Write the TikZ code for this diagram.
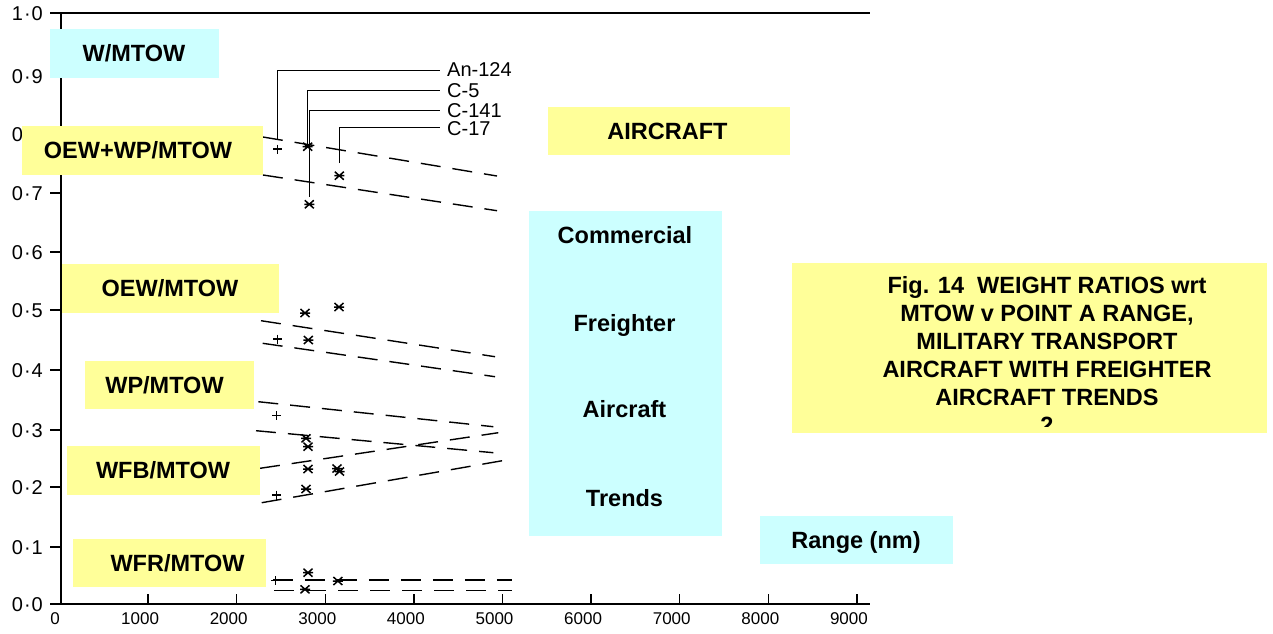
\documentclass[tikz,border=0pt]{standalone}
\usepackage{fontspec}
\setmainfont{Liberation Sans}
\definecolor{boxyellow}{RGB}{255,255,153}
\definecolor{boxcyan}{RGB}{204,255,255}
\tikzset{
  mkline/.style={line width=1.5pt},
  plusmark/.pic={\draw[line width=1.2pt] (-4.5,0)--(4.5,0) (0,-4.5)--(0,4.5);},
  starmark/.pic={\draw[mkline] (-4.5,-4)--(4.5,4) (-4.5,4)--(4.5,-4) (-5,0)--(5,0);},
  trend/.style={line width=1.4pt, dash pattern=on 20pt off 12pt},
  leader/.style={line width=0.9pt},
  axisline/.style={line width=2.2pt},
  tickline/.style={line width=1.5pt},
  ybox/.style={fill=boxyellow, draw=none, inner sep=0pt, anchor=north west},
  cbox/.style={fill=boxcyan, draw=none, inner sep=0pt, anchor=north west},
  lbl/.style={font=\bfseries\fontsize{23.5}{28}\selectfont, inner sep=0pt, anchor=base, yshift=-8.4pt},
  ylab/.style={font=\fontsize{20}{24}\selectfont, inner sep=0pt, anchor=base east, yshift=-7.1pt},
  xlab/.style={font=\fontsize{17}{20}\selectfont, inner sep=0pt, anchor=base, yshift=-6.1pt},
  acname/.style={font=\fontsize{20}{24}\selectfont, inner sep=0pt, anchor=base west, yshift=-7.2pt},
}
\begin{document}
\begin{tikzpicture}[x=1pt,y=-1pt]
\useasboundingbox (0,0) rectangle (1273,633);
\fill[white] (0,0) rectangle (1273,633);

% axes
\coordinate (ytop) at (61,13);
\coordinate (orig) at (61,604);
\coordinate (xend) at (870,604);
\coordinate (topend) at (870,13);
\draw[axisline] (ytop) -- (orig) -- (xend);
\draw[axisline] (ytop) -- (topend);

% y ticks and labels
\foreach \v/\w/\yy/\nm in {1/0/13/a, 0/9/76/b, 0/8/134/c, 0/7/193/d, 0/6/252/e, 0/5/310/f, 0/4/370/g, 0/3/430/h, 0/2/487/i, 0/1/547/j, 0/0/604/k}{
  \coordinate (yt\nm) at (50,\yy);
  \coordinate (ya\nm) at (61,\yy);
  \draw[tickline] (yt\nm) -- (ya\nm);
  \node[ylab] (yl\nm) at (43,\yy) {\v\kern1pt·\kern1pt\w};
}

% x ticks and labels
\node[xlab] (xl0) at (55,618) {0};
\foreach \k in {1,...,9}{
  \coordinate (xtb\k) at ({59.5+88.6*\k},604);
  \coordinate (xtt\k) at ({59.5+88.6*\k},594);
  \draw[tickline] (xtb\k) -- (xtt\k);
  \node[xlab] (xl\k) at ({51.5+88.6*\k},618) {\k000};
}

% trend lines
\coordinate (owu1) at (263,137);   \coordinate (owu2) at (497,176);
\coordinate (owl1) at (263,175);   \coordinate (owl2) at (497,210.7);
\coordinate (oeu1) at (261,320.7); \coordinate (oeu2) at (495,356.7);
\coordinate (oel1) at (262.7,343.3); \coordinate (oel2) at (495,376.7);
\coordinate (wpu1) at (258.3,401.7); \coordinate (wpu2) at (493.3,426.7);
\coordinate (wpl1) at (256,430.7); \coordinate (wpl2) at (493.3,452.7);
\coordinate (fbu1) at (260,468.3); \coordinate (fbu2) at (498.3,432.7);
\coordinate (fbl1) at (261.7,502.7); \coordinate (fbl2) at (502.3,460.7);
\coordinate (fru1) at (272.8,580); \coordinate (fru2) at (512,580);
\coordinate (frl1) at (274,590.7); \coordinate (frl2) at (512,590.7);
\foreach \a in {owu,owl,oeu,oel,wpu,wpl,fbu,fbl,fru,frl}{
  \draw[trend] (\a1) -- (\a2);
}

% aircraft names and leaders
\node[acname] (an124) at (447,69.5) {An-124};
\node[acname] (c5) at (447,90) {C-5};
\node[acname] (c141) at (447,110) {C-141};
\node[acname] (c17) at (447,128.5) {C-17};
\coordinate (lan) at (277.7,140);
\coordinate (lc5) at (307.7,146.7);
\coordinate (lc141) at (309.3,196.7);
\coordinate (lc17) at (339.3,163);
\coordinate (ean) at (440,70.7);
\coordinate (ec5) at (440,90);
\coordinate (ec141) at (440,110);
\coordinate (ec17) at (440,127.7);
\draw[leader] (lan) |- (ean);
\draw[leader] (lc5) |- (ec5);
\draw[leader] (lc141) |- (ec141);
\draw[leader] (lc17) |- (ec17);

% data points
\pic at (277.7,149) {plusmark};
\pic at (307.7,146.7) {starmark};
\pic at (339.3,175.7) {starmark};
\pic at (309.3,204.3) {starmark};

\pic at (305,313) {starmark};
\pic at (339,307) {starmark};
\pic at (277.7,339) {plusmark};
\pic at (308.3,340) {starmark};

\pic at (276.7,415.7) {plusmark};
\pic at (306,438.3) {starmark};
\pic at (308,446.7) {starmark};

\pic at (308,469) {starmark};
\pic at (337,468.5) {starmark};
\pic at (339.5,471.5) {starmark};
\pic at (276.7,495) {plusmark};
\pic at (306,489) {starmark};

\pic at (275.7,580.7) {plusmark};
\pic at (308,572.7) {starmark};
\pic at (337.9,581) {starmark};
\pic at (305,589.3) {starmark};

% label boxes
\node[cbox, minimum width=169pt, minimum height=49pt] (bw) at (50,29) {};
\node[lbl] (tw) at (134,53) {W/MTOW};
\node[ybox, minimum width=241pt, minimum height=49pt] (bowp) at (22,126) {};
\node[lbl] (towp) at (138,150.5) {OEW+WP/MTOW};
\node[ybox, minimum width=217pt, minimum height=49pt] (boew) at (62,264) {};
\node[lbl] (toew) at (170,288.5) {OEW/MTOW};
\node[ybox, minimum width=169pt, minimum height=48pt] (bwp) at (85,361) {};
\node[lbl] (twp) at (164.5,385) {WP/MTOW};
\node[ybox, minimum width=193pt, minimum height=49pt] (bwfb) at (67,446) {};
\node[lbl] (twfb) at (163,470.5) {WFB/MTOW};
\node[ybox, minimum width=193pt, minimum height=48pt] (bwfr) at (73,539) {};
\node[lbl] (twfr) at (177.5,563) {WFR/MTOW};

\node[ybox, minimum width=242pt, minimum height=48pt] (bair) at (548,107) {};
\node[lbl] (tair) at (667.5,131) {AIRCRAFT};

\node[cbox, minimum width=193pt, minimum height=325pt] (bcom) at (529,211) {};
\node[lbl] (tcom) at (625,235.5) {Commercial};
\node[lbl] (tfre) at (624.5,323) {Freighter};
\node[lbl] (tac) at (624.5,409) {Aircraft};
\node[lbl] (ttr) at (624.5,498) {Trends};

\node[cbox, minimum width=193pt, minimum height=48pt] (brng) at (760,516) {};
\node[lbl] (trng) at (856,540) {Range (nm)};

\node[ybox, minimum width=475pt, minimum height=170pt] (bfig) at (792,263) {};
\begin{scope}
  \clip (792,263) rectangle (1267,426);
  \node[font=\bfseries\fontsize{23.5}{27.9}\selectfont, inner sep=0pt, align=center, anchor=north] (tfig) at (1047,276.6)
    {Fig. 14\ \ WEIGHT RATIOS wrt\\MTOW v POINT A RANGE,\\MILITARY TRANSPORT\\AIRCRAFT WITH FREIGHTER\\AIRCRAFT TRENDS\\2};
\end{scope}
\end{tikzpicture}
\end{document}
